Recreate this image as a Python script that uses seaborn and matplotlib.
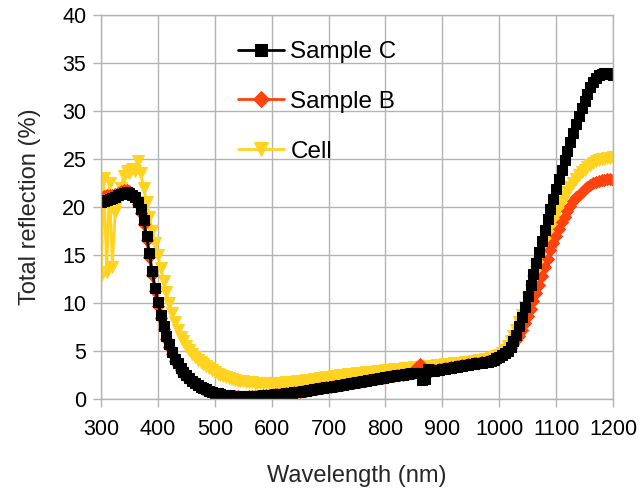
import numpy as np
import pandas as pd
import matplotlib
matplotlib.use("Agg")
import matplotlib.pyplot as plt
import seaborn as sns

# Wavelength grid (nm), 5 nm step
wavelength = np.arange(300, 1201, 5)

# Total reflection (%) of Sample C
sample_c = [
    20.5, 20.6, 20.7, 20.8, 20.9, 21.0, 21.2, 21.4, 21.5, 21.6,     # 300-345
    21.5, 21.3, 21.0, 20.5, 19.8, 18.6, 17.0, 15.2, 13.3, 11.6,     # 350-395
    10.1, 8.8, 7.6, 6.6, 5.7, 4.9, 4.2, 3.7, 3.2, 2.8,              # 400-445
    2.45, 2.15, 1.9, 1.68, 1.48, 1.3, 1.15, 1.0, 0.88, 0.77,        # 450-495
    0.67, 0.58, 0.5, 0.45, 0.4, 0.37, 0.35, 0.33, 0.31, 0.3,        # 500-545
    0.3, 0.3, 0.3, 0.31, 0.32, 0.34, 0.36, 0.38, 0.4, 0.43,         # 550-595
    0.45, 0.48, 0.5, 0.53, 0.56, 0.59, 0.62, 0.66, 0.7, 0.74,       # 600-645
    0.78, 0.82, 0.87, 0.91, 0.96, 1.0, 1.05, 1.1, 1.15, 1.2,        # 650-695
    1.25, 1.3, 1.35, 1.4, 1.45, 1.5, 1.55, 1.6, 1.65, 1.7,          # 700-745
    1.75, 1.8, 1.85, 1.9, 1.95, 2.0, 2.05, 2.1, 2.15, 2.2,          # 750-795
    2.25, 2.3, 2.35, 2.4, 2.45, 2.5, 2.55, 2.58, 2.62, 2.66,        # 800-845
    2.7, 2.72, 2.75, 2.0, 2.1, 3.1, 3.0, 2.95, 3.0, 3.05,           # 850-895
    3.1, 3.15, 3.2, 3.25, 3.3, 3.35, 3.4, 3.45, 3.5, 3.55,          # 900-945
    3.6, 3.65, 3.7, 3.75, 3.8, 3.85, 3.9, 4.0, 4.1, 4.25,           # 950-995
    4.4, 4.6, 4.8, 5.05, 5.4, 6.0, 6.7, 7.6, 8.5, 9.6,              # 1000-1045
    10.7, 11.85, 13.0, 14.15, 15.3, 16.45, 17.6, 18.7, 19.8, 20.85, # 1050-1095
    21.9, 22.9, 23.9, 24.85, 25.8, 26.75, 27.7, 28.6, 29.5, 30.3,   # 1100-1145
    31.0, 31.8, 32.5, 33.0, 33.4, 33.7, 33.9, 34.0, 34.0, 33.9,     # 1150-1195
    33.7,                                                           # 1200
]

# Total reflection (%) of Sample B
sample_b = [
    21.0, 21.1, 21.2, 21.25, 21.3, 21.4, 21.5, 21.7, 21.8, 21.8,
    21.7, 21.4, 21.0, 20.3, 19.4, 18.2, 16.6, 14.8, 12.9, 11.2,
    9.7, 8.4, 7.3, 6.3, 5.4, 4.7, 4.0, 3.5, 3.05, 2.65,
    2.3, 2.0, 1.75, 1.55, 1.35, 1.2, 1.05, 0.92, 0.8, 0.7,
    0.6, 0.52, 0.45, 0.4, 0.35, 0.32, 0.3, 0.28, 0.27, 0.26,
    0.26, 0.26, 0.27, 0.28, 0.3, 0.32, 0.34, 0.37, 0.4, 0.43,
    0.45, 0.48, 0.5, 0.53, 0.56, 0.59, 0.62, 0.66, 0.7, 0.74,
    0.78, 0.82, 0.87, 0.91, 0.96, 1.0, 1.05, 1.1, 1.15, 1.2,
    1.25, 1.3, 1.35, 1.4, 1.45, 1.5, 1.55, 1.6, 1.65, 1.7,
    1.75, 1.8, 1.85, 1.9, 1.95, 2.0, 2.05, 2.1, 2.15, 2.2,
    2.25, 2.3, 2.35, 2.4, 2.45, 2.5, 2.55, 2.58, 2.62, 2.66,
    2.7, 3.3, 3.6, 2.5, 2.6, 2.85, 2.95, 3.0, 3.05, 3.1,
    3.15, 3.2, 3.25, 3.3, 3.35, 3.4, 3.45, 3.5, 3.55, 3.6,
    3.65, 3.7, 3.75, 3.8, 3.85, 3.9, 3.95, 4.0, 4.1, 4.2,
    4.3, 4.5, 4.7, 5.0, 5.3, 5.7, 6.1, 6.6, 7.2, 7.9,
    8.6, 9.4, 10.2, 11.0, 11.9, 12.8, 13.7, 14.6, 15.5, 16.3,
    17.0, 17.7, 18.4, 19.0, 19.6, 20.1, 20.6, 21.0, 21.3, 21.6,
    21.9, 22.1, 22.3, 22.45, 22.6, 22.7, 22.8, 22.85, 22.9, 22.9,
    22.8,
]

# Total reflection (%) of the cell
cell = [
    12.8, 23.0, 13.2, 22.5, 13.8, 19.5, 20.5, 22.0, 23.2, 23.8,
    23.5, 24.0, 23.8, 24.8, 23.5, 22.0, 20.5, 19.0, 17.5, 16.2,
    15.0, 13.6, 12.3, 11.1, 10.0, 9.0, 8.0, 7.2, 6.5, 6.0,
    5.5, 5.1, 4.7, 4.4, 4.1, 3.85, 3.65, 3.4, 3.2, 3.0,
    2.8, 2.65, 2.5, 2.37, 2.25, 2.15, 2.05, 1.98, 1.92, 1.87,
    1.83, 1.79, 1.76, 1.73, 1.71, 1.69, 1.67, 1.66, 1.65, 1.65,
    1.65, 1.65, 1.66, 1.68, 1.7, 1.72, 1.74, 1.77, 1.8, 1.83,
    1.86, 1.9, 1.93, 1.96, 2.0, 2.05, 2.1, 2.15, 2.2, 2.25,
    2.3, 2.34, 2.38, 2.42, 2.45, 2.49, 2.52, 2.56, 2.6, 2.63,
    2.66, 2.7, 2.73, 2.77, 2.8, 2.83, 2.86, 2.89, 2.92, 2.96,
    3.0, 3.02, 3.05, 3.08, 3.1, 3.13, 3.17, 3.2, 3.23, 3.27,
    3.3, 3.32, 3.35, 3.37, 3.4, 3.42, 3.45, 3.47, 3.5, 3.54,
    3.58, 3.61, 3.64, 3.67, 3.7, 3.73, 3.76, 3.8, 3.83, 3.86,
    3.9, 3.95, 4.0, 4.05, 4.1, 4.15, 4.2, 4.27, 4.35, 4.45,
    4.55, 4.8, 5.1, 5.5, 6.0, 6.55, 7.2, 8.0, 8.8, 9.6,
    10.5, 11.4, 12.3, 13.25, 14.2, 15.1, 16.0, 16.85, 17.7, 18.45,
    19.2, 19.85, 20.5, 21.05, 21.6, 22.05, 22.5, 22.9, 23.3, 23.6,
    23.9, 24.15, 24.4, 24.6, 24.8, 24.9, 25.0, 25.05, 25.1, 25.15,
    25.2,
]

x_ticks = [300, 400, 500, 600, 700, 800, 900, 1000, 1100, 1200]
y_ticks = [0, 5, 10, 15, 20, 25, 30, 35, 40]

grid_grey = "#b3b3b3"
sns.set_style("whitegrid", {"grid.color": grid_grey, "axes.edgecolor": grid_grey})
plt.rcParams["font.family"] = ["Liberation Sans", "DejaVu Sans"]
plt.rcParams["text.color"] = "#000000"

fig = plt.figure(figsize=(6.4, 4.97), dpi=100)
ax = fig.add_axes([101 / 640, 1 - 399 / 497, 512 / 640, 384 / 497])

# Drawn back to front: the black curve sits on top where they overlap
series = [
    ("Cell", cell, "#ffd320", "v", 8.0),
    ("Sample B", sample_b, "#ff420e", "D", 6.0),
    ("Sample C", sample_c, "#000000", "s", 6.5),
]
for name, ys, colour, mk, ms in series:
    sns.lineplot(
        x=wavelength, y=ys, ax=ax, color=colour, marker=mk, markersize=ms,
        markeredgecolor=colour, markerfacecolor=colour, linewidth=2.0,
        label=name, sort=False,
    )

ax.set_xlim(300, 1200)
ax.set_ylim(0, 40)
ax.set_xticks(x_ticks)
ax.set_yticks(y_ticks)
ax.grid(True, color=grid_grey, linewidth=1.0)
ax.set_axisbelow(True)
for sp in ax.spines.values():
    sp.set_color(grid_grey)
    sp.set_linewidth(1.0)
ax.tick_params(axis="both", which="both", bottom=True, left=True, length=5.5,
               width=1.0, color=grid_grey, labelsize=15.5, labelcolor="#000000")
ax.tick_params(axis="x", pad=9)
ax.tick_params(axis="y", pad=5)

ax.set_xlabel("Wavelength (nm)", fontsize=17, labelpad=18)
ax.set_ylabel("Total reflection (%)", fontsize=17, labelpad=15)

handles, labels = ax.get_legend_handles_labels()
order = [labels.index(n) for n in ["Sample C", "Sample B", "Cell"]]
ax.legend([handles[i] for i in order], [labels[i] for i in order],
          loc="upper left", bbox_to_anchor=((238 - 101) / 512, (399 - 41) / 384),
          frameon=False, fontsize=17.5, borderpad=0, borderaxespad=0,
          handlelength=1.9, handletextpad=0.25, labelspacing=1.15,
          markerscale=1.3)

fig.savefig("out.png", dpi=100)
